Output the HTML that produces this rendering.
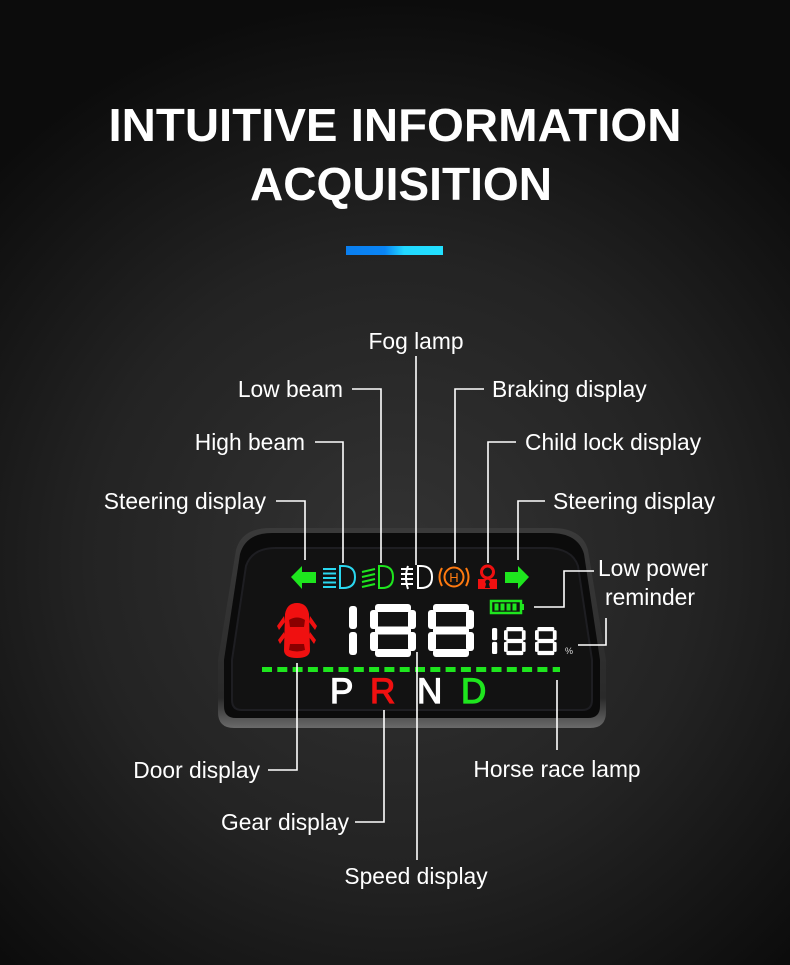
<!DOCTYPE html>
<html><head><meta charset="utf-8"><style>
html,body{margin:0;padding:0;background:#111;}
svg{display:block}
text{font-family:"Liberation Sans",sans-serif;fill:#fff}
</style></head><body>
<svg width="790" height="965" viewBox="0 0 790 965" xmlns="http://www.w3.org/2000/svg">
<defs>
<radialGradient id="bg" cx="395" cy="560" r="560" gradientUnits="userSpaceOnUse">
<stop offset="0" stop-color="#333"/><stop offset="0.55" stop-color="#232323"/><stop offset="1" stop-color="#0c0c0c"/>
</radialGradient>
<linearGradient id="bar" x1="0" x2="1"><stop offset="0" stop-color="#0a7ff0"/><stop offset="0.4" stop-color="#0a85f5"/><stop offset="0.6" stop-color="#22d8ff"/><stop offset="1" stop-color="#22e0ff"/></linearGradient>
<linearGradient id="bez" x1="0" y1="0" x2="0" y2="1"><stop offset="0" stop-color="#3a3a3a"/><stop offset="0.85" stop-color="#2a2a2a"/><stop offset="1" stop-color="#6a6a6a"/></linearGradient>
<g id="d8">
<rect x="5" y="0" width="36" height="8" rx="3"/>
<rect x="5" y="22.5" width="36" height="8" rx="3"/>
<rect x="5" y="45" width="36" height="8" rx="3"/>
<rect x="0" y="6" width="8" height="19" rx="3"/>
<rect x="0" y="28" width="8" height="19" rx="3"/>
<rect x="38" y="6" width="8" height="19" rx="3"/>
<rect x="38" y="28" width="8" height="19" rx="3"/>
</g>
<g id="d1">
<rect x="0" y="2" width="8" height="23" rx="3"/>
<rect x="0" y="28" width="8" height="23" rx="3"/>
</g>
</defs>
<rect width="790" height="965" fill="url(#bg)"/>
<text x="395" y="141" font-size="46" font-weight="bold" text-anchor="middle" textLength="573" lengthAdjust="spacingAndGlyphs">INTUITIVE INFORMATION</text>
<text x="401" y="200" font-size="46" font-weight="bold" text-anchor="middle" textLength="302" lengthAdjust="spacingAndGlyphs">ACQUISITION</text>
<rect x="346" y="246" width="97" height="9" fill="url(#bar)"/>

<!-- device -->
<path d="M270 528 L552 528 Q582 528 588 550 L606 660 L606 712 Q606 728 590 728 L234 728 Q218 728 218 712 L218 660 L236 550 Q242 528 270 528 Z" fill="url(#bez)"/>
<path d="M272 533 L550 533 Q578 533 584 554 L600 660 L600 706 Q600 718 588 718 L236 718 Q224 718 224 706 L224 660 L240 554 Q246 533 272 533 Z" fill="#0b0b0b"/>
<path d="M276 548 L546 548 Q572 548 578 566 L592 660 L592 700 Q592 710 582 710 L242 710 Q232 710 232 700 L232 660 L246 566 Q252 548 276 548 Z" fill="#121212" stroke="#1e1e22" stroke-width="2"/>

<!-- icon row -->
<path d="M291 577 L302 566 L302 572 L316 572 L316 583 L302 583 L302 589 Z" fill="#1ee61e"/>
<g stroke="#2ad8f0" stroke-width="2" fill="none">
<path d="M340 566 L343 566 Q355 566 355 577 Q355 588 343 588 L340 588 Z"/>
<path d="M323 569 H336 M323 573.5 H336 M323 578 H336 M323 582.5 H336 M323 587 H336"/>
</g>
<g stroke="#1ee61e" stroke-width="2" fill="none">
<path d="M379 566 L382 566 Q393 566 393 577 Q393 588 382 588 L379 588 Z"/>
<path d="M362 572 L375 569 M362 577 L375 574 M362 582 L375 579 M362 587 L375 584"/>
</g>
<g stroke="#fff" stroke-width="2" fill="none">
<path d="M418 566 L421 566 Q432 566 432 577 Q432 588 421 588 L418 588 Z"/>
<path d="M401 569 H413 M401 574 H413 M401 579 H413 M401 584 H413 M408 566 Q404 577 408 589"/>
</g>
<g stroke="#ff7a10" stroke-width="2" fill="none">
<circle cx="454" cy="577" r="9.5"/>
<path d="M442 568 Q437 577 442 586 M466 568 Q471 577 466 586"/>
</g>
<text x="454" y="582" font-size="13" text-anchor="middle" style="fill:#ff7a10">H</text>
<g fill="#f01010">
<path d="M478 589 L478 579 L497 579 L497 589 Z"/>
<circle cx="487.5" cy="572" r="6" fill="none" stroke="#f01010" stroke-width="3"/>
</g>
<circle cx="487.5" cy="582" r="2.3" fill="#111"/>
<path d="M486 584 L489 584 L490 588 L485 588Z" fill="#111"/>
<path d="M529 577 L518 566 L518 572 L505 572 L505 583 L518 583 L518 589 Z" fill="#1ee61e"/>

<!-- battery -->
<rect x="491" y="601" width="30" height="12" fill="none" stroke="#1ee61e" stroke-width="2.5"/>
<rect x="521" y="604" width="3" height="6" fill="#1ee61e"/>
<g fill="#1ee61e"><rect x="494.5" y="603.5" width="4" height="7"/><rect x="500.5" y="603.5" width="4" height="7"/><rect x="506.5" y="603.5" width="4" height="7"/><rect x="512.5" y="603.5" width="4" height="7"/></g>

<!-- car -->
<g fill="#f01010">
<path d="M297 603 Q287 603 285 614 L284 650 Q284 658 297 658 Q310 658 310 650 L309 614 Q307 603 297 603 Z"/>
<path d="M284 616 L277 626 L279 630 L285 622Z M310 616 L317 626 L315 630 L309 622Z M284 632 L278 640 L280 644 L285 637Z M310 632 L316 640 L314 644 L309 637Z"/>
</g>
<path d="M289 620 Q297 615 305 620 L304 627 L290 627 Z M290 644 L304 644 L305 650 Q297 653 289 650 Z" fill="#8a0000"/>

<!-- big digits -->
<g fill="#fff">
<use href="#d1" x="349" y="604"/>
<use href="#d8" x="370" y="604"/>
<use href="#d8" x="428" y="604"/>
<g transform="translate(492 627) scale(0.65 0.53)"><use href="#d1"/></g>
<g transform="translate(504 627) scale(0.47 0.53)"><use href="#d8"/></g>
<g transform="translate(535 627) scale(0.47 0.53)"><use href="#d8"/></g>
</g>
<text x="565" y="654" font-size="9" style="fill:#ddd">%</text>

<!-- dashed line -->
<line x1="262" y1="669.5" x2="560" y2="669.5" stroke="#1ee61e" stroke-width="5" stroke-dasharray="10 5.3"/>

<!-- PRND -->
<g font-size="35" stroke-width="1.2">
<text x="330" y="703" style="fill:#fff" stroke="#fff">P</text>
<text x="370" y="703" style="fill:#f01010" stroke="#f01010">R</text>
<text x="417" y="703" style="fill:#fff" stroke="#fff">N</text>
<text x="461" y="703" style="fill:#1ee61e" stroke="#1ee61e">D</text>
</g>

<!-- leader lines -->
<g stroke="#fff" stroke-width="1.6" fill="none">
<path d="M416 356 V565"/>
<path d="M352 389 H381 V563"/>
<path d="M484 389 H455 V563"/>
<path d="M315 442 H343 V563"/>
<path d="M516 442 H488 V563"/>
<path d="M276 501 H305 V560"/>
<path d="M545 501 H518 V560"/>
<path d="M534 607 H564 V571 H594"/>
<path d="M578 645 H606 V618"/>
<path d="M297 663 V770 H268"/>
<path d="M384 710 V822 H355"/>
<path d="M417 652 V860"/>
<path d="M557 680 V750"/>
</g>

<!-- labels -->
<g font-size="22.8">
<text x="416" y="349" text-anchor="middle">Fog lamp</text>
<text x="343" y="397" text-anchor="end">Low beam</text>
<text x="492" y="397">Braking display</text>
<text x="305" y="450" text-anchor="end">High beam</text>
<text x="525" y="450">Child lock display</text>
<text x="266" y="509" text-anchor="end">Steering display</text>
<text x="553" y="509">Steering display</text>
<text x="598" y="576">Low power</text>
<text x="605" y="605">reminder</text>
<text x="260" y="778" text-anchor="end">Door display</text>
<text x="557" y="777" text-anchor="middle">Horse race lamp</text>
<text x="349" y="830" text-anchor="end">Gear display</text>
<text x="416" y="884" text-anchor="middle">Speed display</text>
</g>
</svg>
</body></html>
